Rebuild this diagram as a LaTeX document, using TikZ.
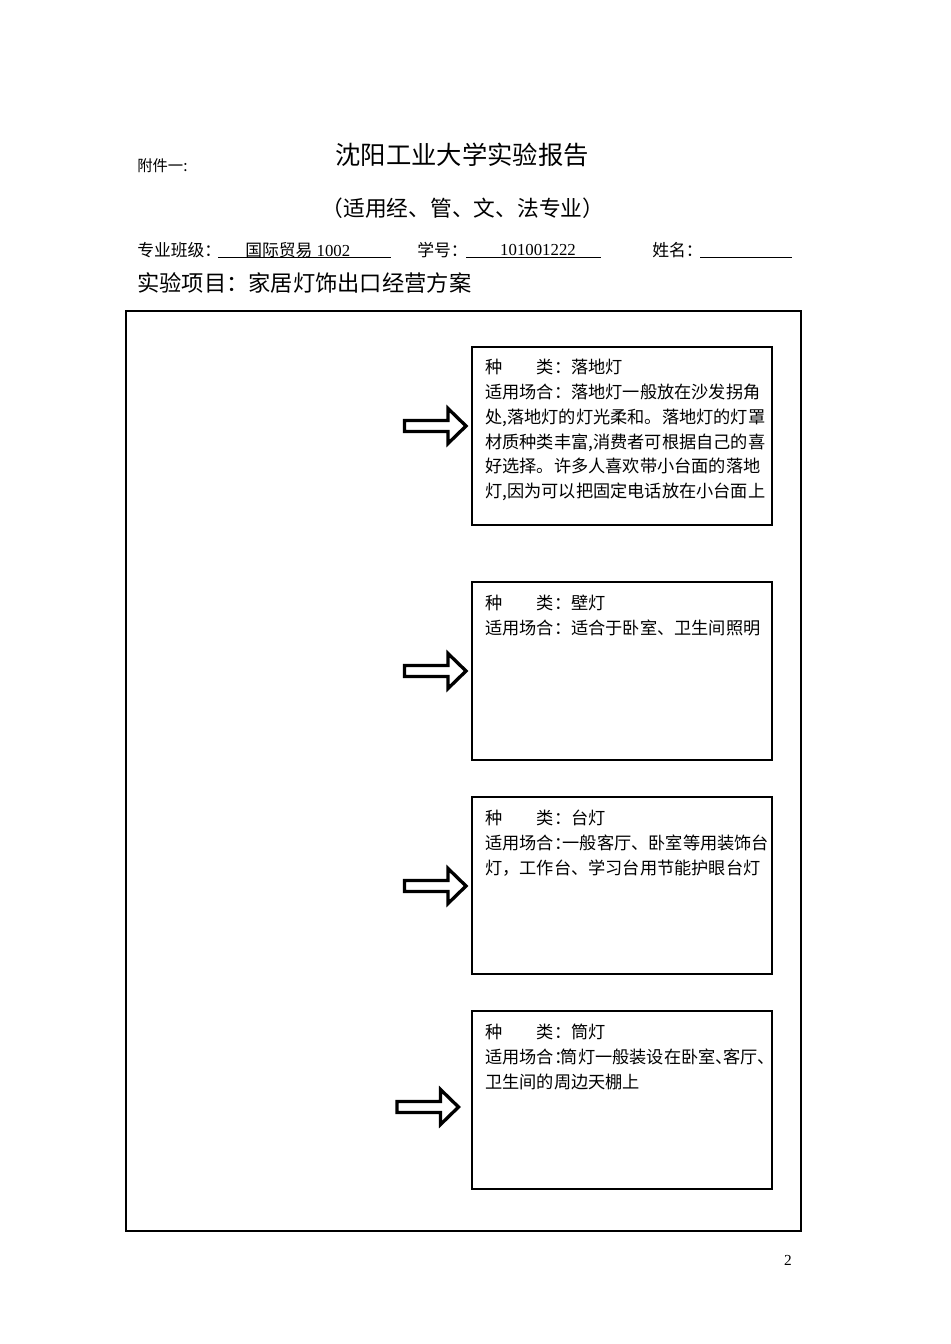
\documentclass[tikz,border=0pt]{standalone}
\usepackage{fontspec}
\setmainfont{Liberation Serif}
\newfontfamily\cjk{Noto Sans CJK SC}
\tikzset{
  boxtext/.style={anchor=north west, align=left, inner sep=0pt, font=\cjk\fontsize{12.9}{18.6}\selectfont},
  infobox/.style={draw, line width=0.8pt},
  blockarrow/.pic={\draw[line width=2.5pt, line join=miter, miter limit=10]
     (0,-5.5) -- (43.5,-5.5) -- (43.5,-17.5) -- (61.5,0) -- (43.5,17.5) -- (43.5,5.5) -- (0,5.5) -- cycle;},
  rowtext/.style={anchor=west, inner sep=0pt, font=\fontsize{12.6}{14}\selectfont},
  uline/.style={line width=0.8pt}
}
\begin{document}
\begin{tikzpicture}[x=0.75pt,y=-0.75pt]
\useasboundingbox (0,0) rectangle (950,1344);
% header
\node[anchor=west, inner sep=0pt, font=\cjk\fontsize{11.5}{13}\selectfont] (att) at (137,166) {附件一:};
\node[inner sep=0pt, font=\cjk\fontsize{19}{22}\selectfont] (title) at (462,155) {沈阳工业大学实验报告};
\node[inner sep=0pt, font=\cjk\fontsize{16.3}{19}\selectfont] (sub) at (463,208) {（适用经、管、文、法专业）};
\node[rowtext] (major) at (137,250) {\cjk 专业班级：};
\node[rowtext] (majorv) at (245,250) {{\cjk 国际贸易} 1002};
\draw[uline] (218,257.5) -- (391,257.5);
\node[rowtext] (sid) at (417,250) {\cjk 学号：};
\node[rowtext, anchor=center] (sidv) at (538,250) {101001222};
\draw[uline] (466,257.5) -- (601,257.5);
\node[rowtext] (name) at (652,250) {\cjk 姓名：};
\draw[uline] (700,257.5) -- (792,257.5);
\node[anchor=west, inner sep=0pt, font=\cjk\fontsize{16.7}{19}\selectfont] (proj) at (137,283) {实验项目：家居灯饰出口经营方案};
% frame
\draw[line width=0.8pt] (126,311) rectangle (801,1231);
% boxes
\draw[infobox] (472,347) rectangle (772,525);
\draw[infobox] (472,582) rectangle (772,760);
\draw[infobox] (472,797) rectangle (772,974);
\draw[infobox] (472,1011) rectangle (772,1189);
\node[boxtext] (t1) at (485,359) {种\quad\quad 类：落地灯\\
适用场合：落地灯一般放在沙发拐角\\
处,落地灯的灯光柔和。落地灯的灯罩\\
材质种类丰富,消费者可根据自己的喜\\
好选择。许多人喜欢带小台面的落地\\
灯,因为可以把固定电话放在小台面上};
\node[boxtext] (t2) at (485,595) {种\quad\quad 类：壁灯\\
适用场合：适合于卧室、卫生间照明};
\node[boxtext] (t3) at (485,810) {种\quad\quad 类：台灯\\
适用场合\makebox[0.5em][l]{：}一般客厅、卧室等用装饰台\\
灯，工作台、学习台用节能护眼台灯};
\node[boxtext] (t4) at (485,1024) {种\quad\quad 类：筒灯\\
适用场合\makebox[0.4em][l]{：}筒灯一般装设在卧室\makebox[0.45em][l]{、}客厅\makebox[0.45em][l]{、}\\
卫生间的周边天棚上};
% arrows
\pic at (404.5,426) {blockarrow};
\pic at (404.5,671) {blockarrow};
\pic at (404.5,886) {blockarrow};
\pic at (397,1107) {blockarrow};
% page number
\node[inner sep=0pt, font=\fontsize{11.5}{13}\selectfont] (pg) at (788,1260) {2};
\end{tikzpicture}
\end{document}
